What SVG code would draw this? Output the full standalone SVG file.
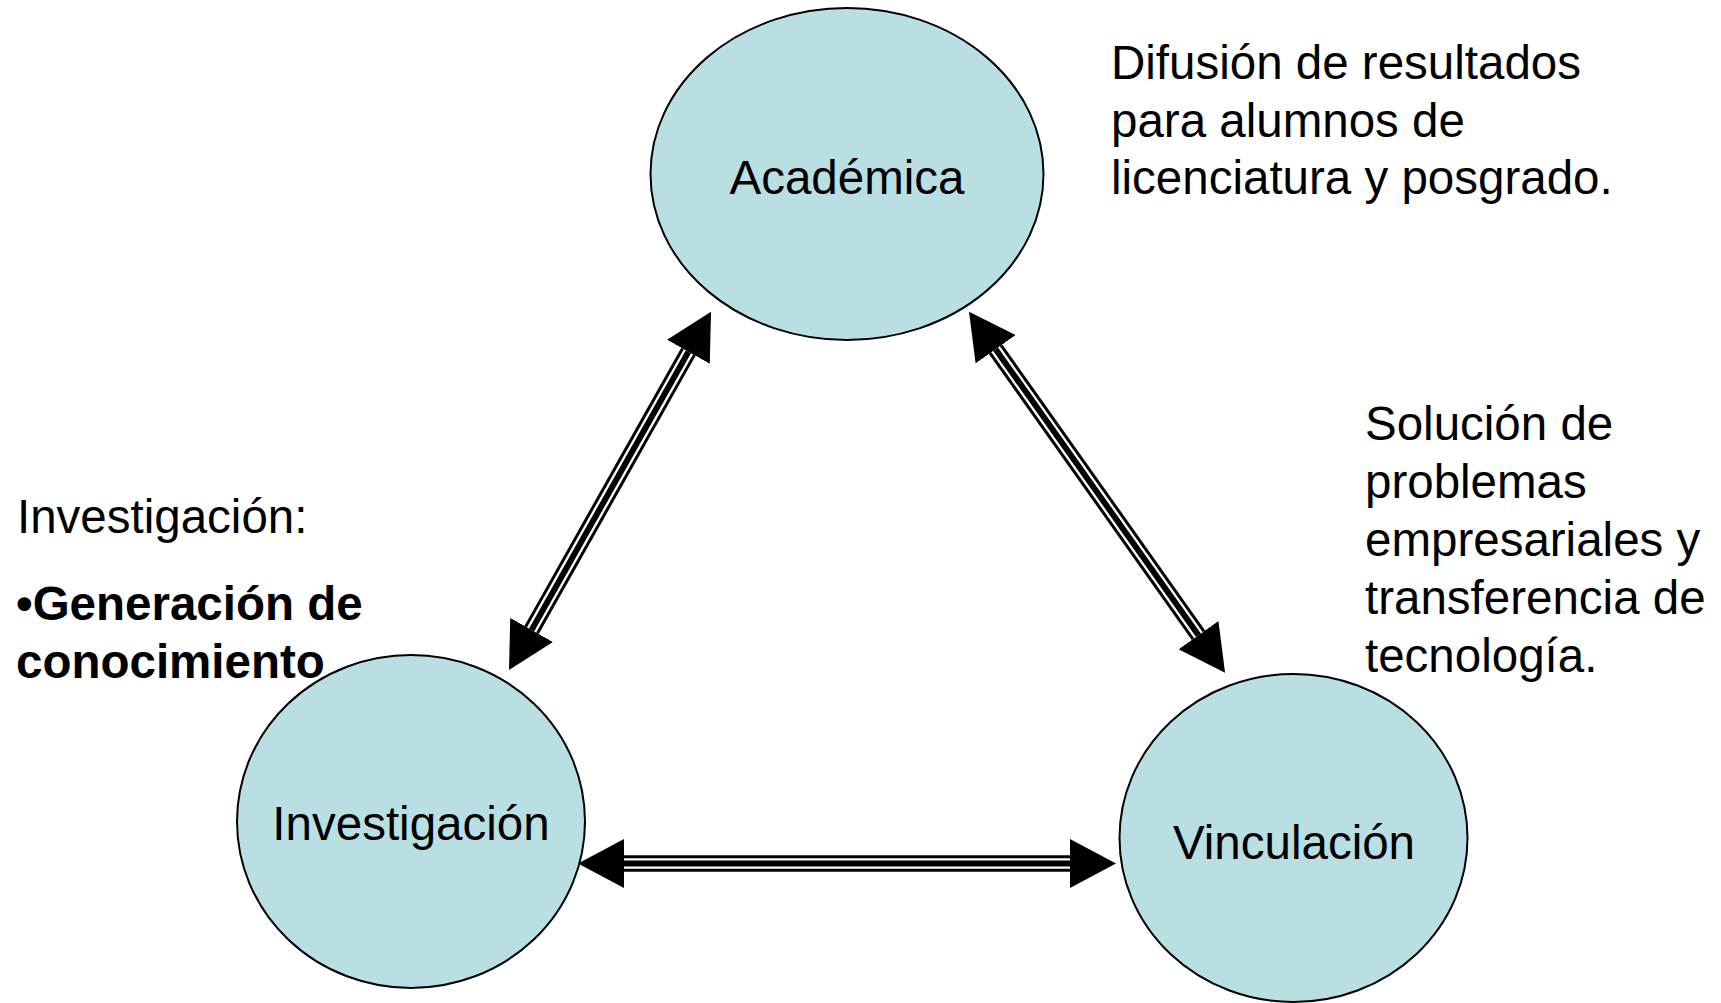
<svg xmlns="http://www.w3.org/2000/svg" width="1721" height="1003" viewBox="0 0 1721 1003">
<style>
  .node ellipse { fill: #B9DFE2; stroke: #000; stroke-width: 2; }
  .label { font-family: "Liberation Sans", Arial, sans-serif; font-size: 47.5px; fill: #000; text-anchor: middle; }
  .note { font-family: "Liberation Sans", Arial, sans-serif; font-size: 47.5px; fill: #000; }
  .bold { font-weight: bold; }
  .shaft { stroke: #000; stroke-width: 16.5; fill: none; }
  .gap { stroke: #fff; stroke-width: 2.3; fill: none; }
</style>
<defs>
  <marker id="ah" viewBox="0 0 46 49" refX="0" refY="24.5" markerWidth="46" markerHeight="49" markerUnits="userSpaceOnUse" orient="auto-start-reverse">
    <path d="M0,0 L46,24.5 L0,49 Z" fill="#000"/>
  </marker>
</defs>
<rect x="0" y="0" width="1721" height="1003" fill="#fff"/>

<g id="connectors">
  <g id="arrow-investigacion-academica" transform="translate(509,670) rotate(-60.58)">
    <line class="shaft" x1="46" y1="0" x2="365.3" y2="0" marker-start="url(#ah)" marker-end="url(#ah)"/>
    <line class="gap" x1="46" y1="-4.1" x2="365.3" y2="-4.1"/>
    <line class="gap" x1="46" y1="4.1" x2="365.3" y2="4.1"/>
  </g>
  <g id="arrow-academica-vinculacion" transform="translate(969,311.7) rotate(54.65)">
    <line class="shaft" x1="46" y1="0" x2="396.6" y2="0" marker-start="url(#ah)" marker-end="url(#ah)"/>
    <line class="gap" x1="46" y1="-4.1" x2="396.6" y2="-4.1"/>
    <line class="gap" x1="46" y1="4.1" x2="396.6" y2="4.1"/>
  </g>
  <g id="arrow-investigacion-vinculacion" transform="translate(578,863.5)">
    <line class="shaft" x1="46" y1="0" x2="492" y2="0" marker-start="url(#ah)" marker-end="url(#ah)"/>
    <line class="gap" x1="46" y1="-4.1" x2="492" y2="-4.1"/>
    <line class="gap" x1="46" y1="4.1" x2="492" y2="4.1"/>
  </g>
</g>

<g id="node-academica" class="node">
  <ellipse cx="847" cy="174" rx="196.5" ry="166"/>
  <text class="label" x="847" y="194">Académica</text>
</g>
<g id="node-investigacion" class="node">
  <ellipse cx="411" cy="821.5" rx="174" ry="166.5"/>
  <text class="label" x="411" y="840">Investigación</text>
</g>
<g id="node-vinculacion" class="node">
  <ellipse cx="1293.5" cy="838" rx="174" ry="164"/>
  <text class="label" x="1294" y="859">Vinculación</text>
</g>

<g id="note-academica">
  <text class="note" x="1111" y="79.3">Difusión de resultados</text>
  <text class="note" x="1111" y="136.5">para alumnos de</text>
  <text class="note" x="1111" y="193.5">licenciatura y posgrado.</text>
</g>
<g id="note-vinculacion">
  <text class="note" x="1365" y="440">Solución de</text>
  <text class="note" x="1365" y="498">problemas</text>
  <text class="note" x="1365" y="556">empresariales y</text>
  <text class="note" x="1365" y="614">transferencia de</text>
  <text class="note" x="1365" y="672">tecnología.</text>
</g>
<g id="note-investigacion">
  <text class="note" x="17" y="533">Investigación:</text>
  <text class="note bold" x="16" y="620">•Generación de</text>
  <text class="note bold" x="16" y="678">conocimiento</text>
</g>
</svg>
